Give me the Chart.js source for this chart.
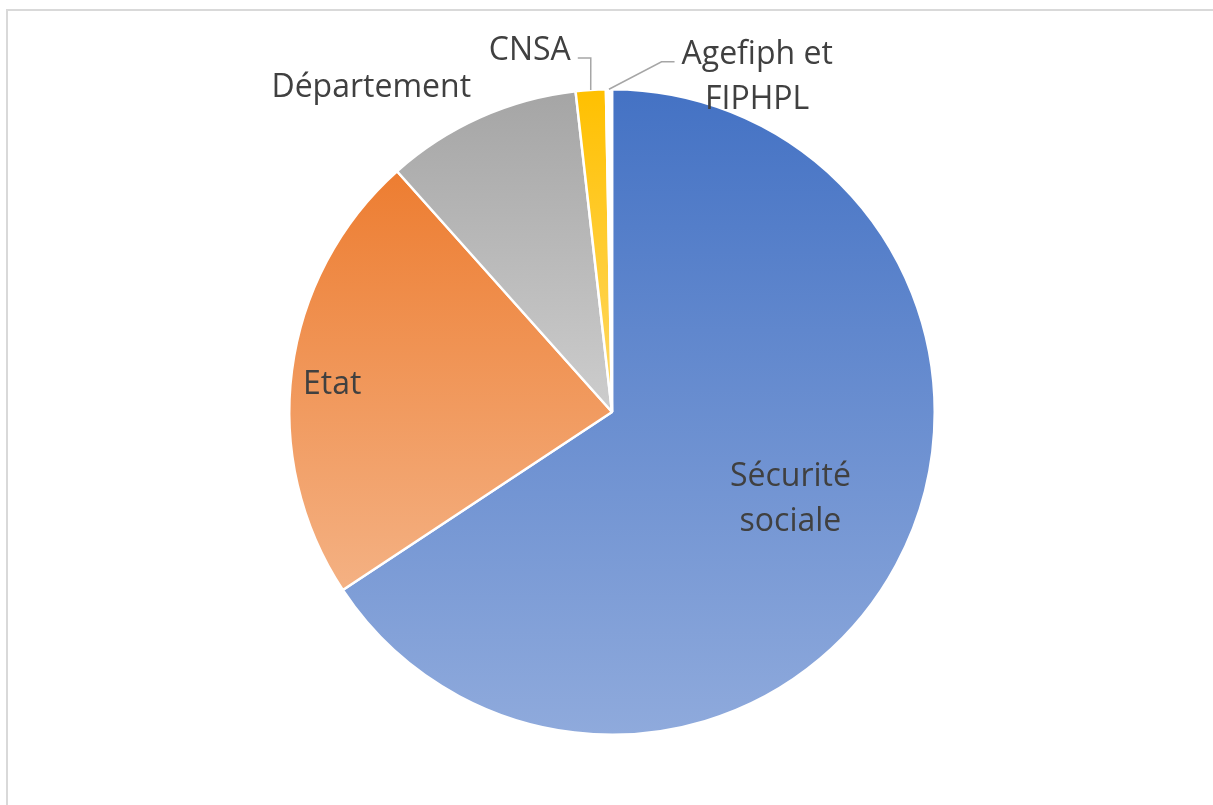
<!DOCTYPE html>
<html>
<head>
<meta charset="utf-8">
<script src="https://cdn.jsdelivr.net/npm/chart.js@4.4.1/dist/chart.umd.min.js"></script>
<style>
  html, body { margin: 0; padding: 0; background: #fff; overflow: hidden; }
  #frame { position: absolute; left: 6px; top: 9px; width: 1300px; height: 900px;
           border-left: 2px solid #d9d9d9; border-top: 2px solid #d9d9d9; }
  #wrap { position: absolute; left: 0; top: 0; width: 1213px; height: 805px; }
</style>
</head>
<body>
<div id="frame"></div>
<div id="wrap"><canvas id="pieChart"></canvas></div>
<script>
// Financeurs (part en %)
const categories = ['Sécurité sociale', 'Etat', 'Département', 'CNSA', 'Agefiph et FIPHPL'];
const shares = [65.7, 22.7, 9.8, 1.5, 0.3];
const labelLines = [['Sécurité', 'sociale'], ['Etat'], ['Département'], ['CNSA'], ['Agefiph et', 'FIPHPL']];

const topColors = ['#4472C4', '#ED7D31', '#A5A5A5', '#FFC000', '#FFFFFF'];
const bottomColors = ['#8FAADC', '#F4B183', '#CDCDCD', '#FFD966', '#FFFFFF'];

// where each label sits: angle clockwise from 12h (deg), distance in radius units
const labelPlace = [
  { angle: 115, dist: 0.61 },
  { angle: 276.3, dist: 0.872 },
  { angle: 323.7, dist: 1.26 },
  { angle: 347.3, dist: 1.159, leader: 'left' },
  { angle: 23.2, dist: 1.142, leader: 'right' }
];

// vertical gradient over the bounding box of each slice
function sliceGradient(c) {
  const chart = c.chart, area = chart.chartArea;
  if (!area) return topColors[c.dataIndex];
  const i = c.dataIndex;
  const total = shares.reduce((a, b) => a + b, 0);
  let before = 0;
  for (let k = 0; k < i; k++) before += shares[k];
  const a0 = before / total * Math.PI * 2 - Math.PI / 2;
  const a1 = (before + shares[i]) / total * Math.PI * 2 - Math.PI / 2;
  const cx = (area.left + area.right) / 2, cy = (area.top + area.bottom) / 2;
  const r = Math.min(area.width, area.height) / 2 - 1;
  let ymin = cy, ymax = cy;
  for (let s = 0; s <= 60; s++) {
    const y = cy + Math.sin(a0 + (a1 - a0) * s / 60) * r;
    ymin = Math.min(ymin, y); ymax = Math.max(ymax, y);
  }
  if (ymax - ymin < 1) ymax = ymin + 1;
  const g = chart.ctx.createLinearGradient(0, ymin, 0, ymax);
  g.addColorStop(0, topColors[i]);
  g.addColorStop(1, bottomColors[i]);
  return g;
}

const sliceLabels = {
  id: 'sliceLabels',
  afterDatasetsDraw(chart) {
    const ctx = chart.ctx;
    const meta = chart.getDatasetMeta(0);
    ctx.save();
    ctx.font = '32px "Open Sans"';
    ctx.fillStyle = '#404040';
    ctx.textAlign = 'center';
    ctx.textBaseline = 'middle';
    const lh = 45;
    meta.data.forEach((arc, i) => {
      const p = labelPlace[i];
      const r = arc.outerRadius;
      const a = p.angle * Math.PI / 180;
      const cx = arc.x + Math.sin(a) * r * p.dist;
      const cy = arc.y - Math.cos(a) * r * p.dist;
      const lines = labelLines[i];
      const y0 = cy - (lines.length - 1) * lh / 2;
      lines.forEach((t, k) => ctx.fillText(t, cx, y0 + k * lh + 4));
      if (p.leader) {
        const w = Math.max(...lines.map(t => ctx.measureText(t).width));
        const mid = (arc.startAngle + arc.endAngle) / 2;
        const sx = arc.x + Math.cos(mid) * r, sy = arc.y + Math.sin(mid) * r;
        const ey = y0 + 11;
        const ex = p.leader === 'left' ? cx + w / 2 + 7 : cx - w / 2 - 7;
        const bx = p.leader === 'left' ? ex + 13 : ex - 13;
        ctx.strokeStyle = '#a6a6a6';
        ctx.lineWidth = 1.5;
        ctx.beginPath();
        ctx.moveTo(sx, sy);
        ctx.lineTo(bx, ey);
        ctx.lineTo(ex, ey);
        ctx.stroke();
      }
    });
    ctx.restore();
  }
};

new Chart(document.getElementById('pieChart'), {
  type: 'pie',
  data: {
    labels: categories,
    datasets: [{
      data: shares,
      backgroundColor: sliceGradient,
      borderColor: '#ffffff',
      borderWidth: 2.5
    }]
  },
  options: {
    responsive: true,
    maintainAspectRatio: false,
    animation: false,
    layout: { padding: { top: 88, bottom: 69, left: 288, right: 277 } },
    plugins: { legend: { display: false }, tooltip: { enabled: false } }
  },
  plugins: [sliceLabels]
});
</script>
</body>
</html>
